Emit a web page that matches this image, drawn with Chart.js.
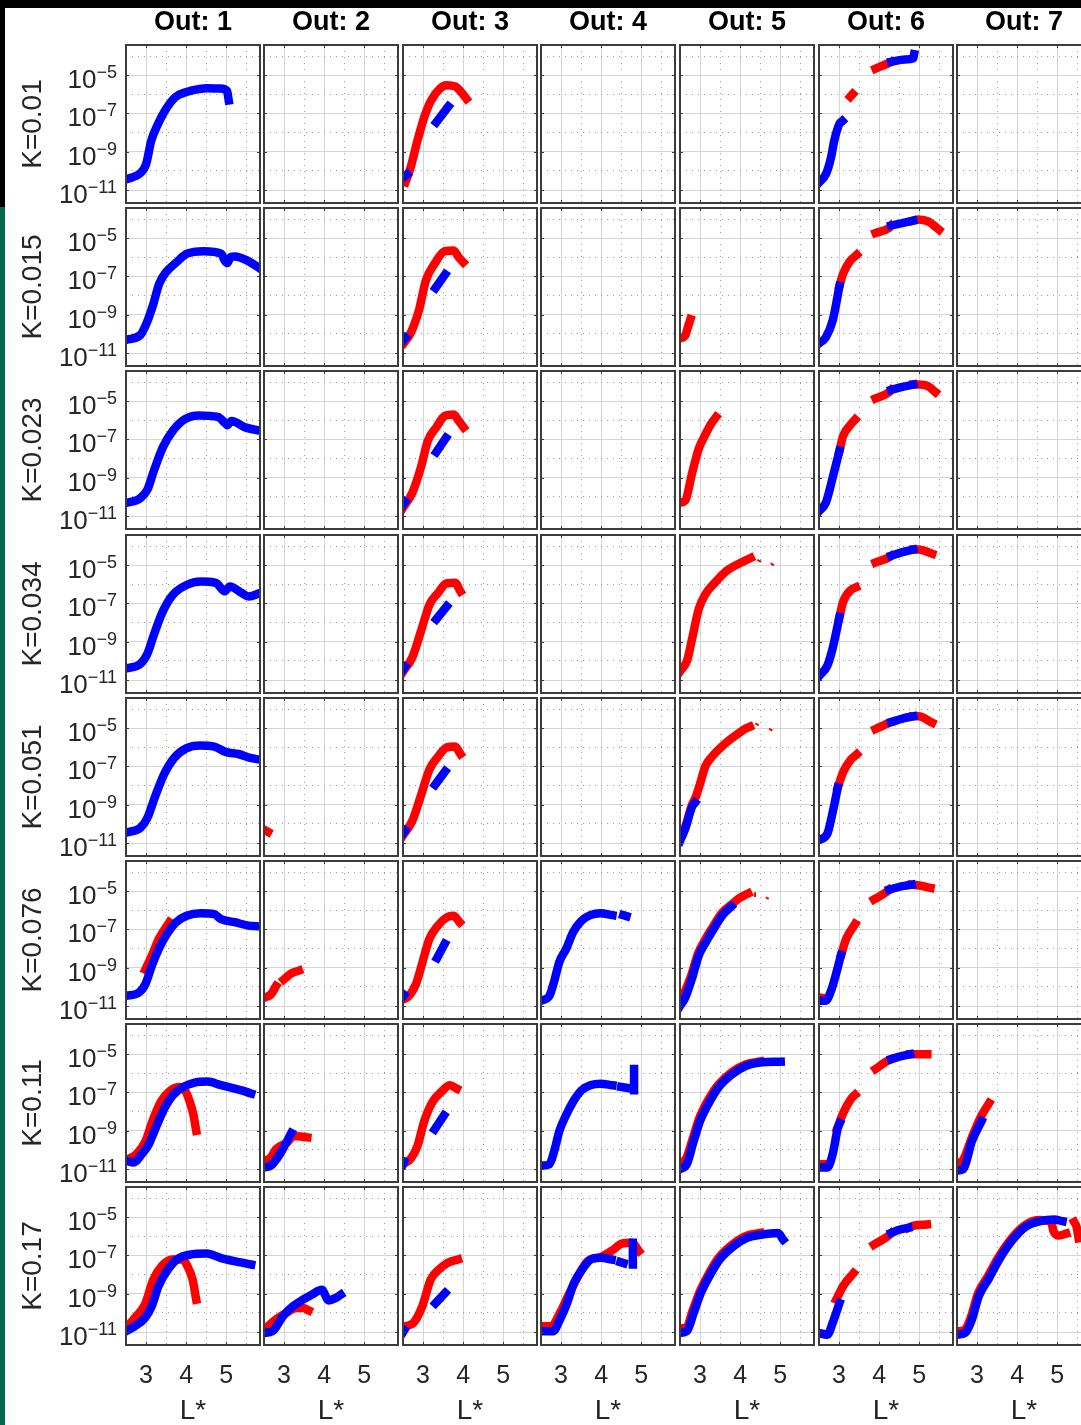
<!DOCTYPE html>
<html lang="en">
<head>
<meta charset="UTF-8">
<title>Out vs L* for each K</title>
<script src="https://cdn.jsdelivr.net/npm/chart.js"></script>
<style>
  html, body { margin: 0; padding: 0; background: #fff; }
  #frame { position: relative; width: 1081px; height: 1425px; overflow: hidden; background: #fff; }
  .edge { position: absolute; }
  .edge.top { left: 0; top: 0; width: 1081px; height: 8px; background: #000; }
  .edge.left { left: 0; top: 0; width: 5px; height: 207px; background: #000; }
  .edge.green { left: 0; top: 207px; width: 5px; height: 1218px; background: #04684a; }
  #frame canvas { position: absolute; }
</style>
</head>
<body>
<div id="frame">
  <div class="edge top"></div>
  <div class="edge left"></div>
  <div class="edge green"></div>
</div>
<script>
const FONT = "'Liberation Sans', Arial, Helvetica, sans-serif";
Chart.defaults.font.family = FONT;
Chart.defaults.color = '#262626';

// axes
const kLabels = ['K=0.01', 'K=0.015', 'K=0.023', 'K=0.034', 'K=0.051', 'K=0.076', 'K=0.11', 'K=0.17'];
const outLabels = ['Out: 1', 'Out: 2', 'Out: 3', 'Out: 4', 'Out: 5', 'Out: 6', 'Out: 7'];
const lTicks = [3, 4, 5];
const lMinor = [3.5, 4.5, 5.5];
const yTicks = [1e-5, 1e-7, 1e-9, 1e-11];
const yMinor = [1e-4, 1e-6, 1e-8, 1e-10];
const lRange = [2.5, 5.84];
const yRange = [2.1e-12, 3.8e-4];

// subplot grid
const colLefts = [126, 264, 403, 541, 680, 819, 957];
const rowTops = [45, 208, 371, 535, 698, 861, 1024, 1187];
const PLOT_W = 134, PLOT_H = 158;

// each series is a list of pieces, each piece a list of [L*, value]
// K = 0.01
const k0010_out1_blue = [[[2.5,3.6e-11],[2.87,8.1e-11],[3.0,2.2e-10],[3.13,3.8e-9],[3.3,2.9e-8],[3.47,1.4e-7],[3.73,7.2e-7],[3.99,1.3e-6],[4.33,1.9e-6],[4.5,2.1e-6],[4.85,2.0e-6],[5.02,1.5e-6],[5.06,4.8e-7]]];
const k0010_out3_red = [[[2.56,2.5e-11],[2.69,1.5e-10],[2.86,3.8e-9],[3.03,6.5e-8],[3.2,4.8e-7],[3.42,2.0e-6],[3.59,3.0e-6],[3.8,2.6e-6],[3.98,1.1e-6],[4.08,5.9e-7]]];
const k0010_out3_blue = [[[2.5,4.5e-11],[2.6,6.6e-11]], [[3.33,3.5e-8],[3.63,2.3e-7]]];
const k0010_out6_red = [[[3.28,7.6e-7],[3.34,1.05e-6]], [[3.91,2.2e-5],[4.21,4.1e-5],[4.3,5.0e-5]]];
const k0010_out6_blue = [[[2.5,2.5e-11],[2.67,6.6e-11],[2.8,5.0e-10],[2.88,3.8e-9],[3.01,2.9e-8],[3.08,4.0e-8]], [[4.3,5.0e-5],[4.64,6.6e-5],[4.85,7.6e-5],[4.87,1.26e-4]]];

// K = 0.015
const k0015_out1_blue = [[[2.5,4.9e-11],[2.86,8.9e-11],[2.98,2.5e-10],[3.16,2.6e-9],[3.33,4.3e-8],[3.5,1.7e-7],[3.76,5.6e-7],[4.02,1.55e-6],[4.44,2.1e-6],[4.87,1.55e-6],[4.97,6.3e-7],[5.03,5.0e-7],[5.1,1.0e-6],[5.21,1.1e-6],[5.56,6.2e-7],[5.84,2.6e-7]]];
const k0015_out3_red = [[[2.52,3.3e-11],[2.69,1.1e-10],[2.9,1.8e-9],[3.07,6.3e-8],[3.29,4.7e-7],[3.54,2.1e-6],[3.76,2.3e-6],[3.89,1.0e-6],[4.0,5.6e-7]]];
const k0015_out3_blue = [[[2.5,4.5e-11],[2.56,6.3e-11]], [[3.31,2.5e-8],[3.55,1.3e-7]]];
const k0015_out5_red = [[[2.5,5.9e-11],[2.63,8.3e-11],[2.71,2.8e-10],[2.76,5.9e-10]]];
const k0015_out6_red = [[[3.01,3.2e-8],[3.1,1.4e-7],[3.27,6.3e-7],[3.44,1.35e-6]], [[3.91,1.9e-5],[4.25,3.5e-5],[4.3,4.6e-5]], [[4.85,8.3e-5],[4.98,9.5e-5],[5.23,7.4e-5],[5.49,2.8e-5]]];
const k0015_out6_blue = [[[2.5,3.2e-11],[2.67,6.6e-11],[2.84,4.9e-10],[3.01,3.2e-8]], [[4.3,4.6e-5],[4.6,6.3e-5],[4.85,8.3e-5]]];

// K = 0.023
const k0023_out1_blue = [[[2.5,4.8e-11],[2.86,8.7e-11],[3.03,2.3e-10],[3.2,2.5e-9],[3.42,4.0e-8],[3.67,2.9e-7],[3.97,1.15e-6],[4.32,1.8e-6],[4.79,1.5e-6],[4.97,7.1e-7],[5.02,5.6e-7],[5.13,9.3e-7],[5.47,4.3e-7],[5.84,2.9e-7]]];
const k0023_out3_red = [[[2.5,2.7e-11],[2.73,1.6e-10],[2.95,3.7e-9],[3.12,8.7e-8],[3.33,4.3e-7],[3.54,1.7e-6],[3.76,2.0e-6],[3.89,9.3e-7],[4.01,4.3e-7]]];
const k0023_out3_blue = [[[2.5,4.0e-11],[2.55,5.6e-11]], [[3.33,2.2e-8],[3.57,1.2e-7]]];
const k0023_out5_red = [[[2.5,5.0e-11],[2.63,6.3e-11],[2.8,1.7e-9],[2.97,3.4e-8],[3.14,1.95e-7],[3.28,6.9e-7],[3.4,1.5e-6]]];
const k0023_out6_red = [[[3.01,2.6e-8],[3.1,1.5e-7],[3.27,5.4e-7],[3.4,1.1e-6]], [[3.91,1.4e-5],[4.25,3.0e-5],[4.3,3.9e-5]], [[4.85,7.4e-5],[4.98,7.4e-5],[5.23,5.9e-5],[5.4,3.0e-5]]];
const k0023_out6_blue = [[[2.5,1.8e-11],[2.67,5.0e-11],[2.84,1.0e-9],[3.01,2.6e-8]], [[4.3,3.9e-5],[4.58,5.6e-5],[4.85,7.4e-5]]];

// K = 0.034
const k0034_out1_blue = [[[2.5,4.0e-11],[2.86,7.1e-11],[3.03,2.3e-10],[3.2,2.5e-9],[3.42,4.0e-8],[3.67,2.9e-7],[4.01,9.3e-7],[4.36,1.4e-6],[4.74,1.2e-6],[4.96,4.3e-7],[5.09,7.8e-7],[5.39,3.5e-7],[5.56,2.3e-7],[5.84,3.5e-7]]];
const k0034_out3_red = [[[2.5,2.7e-11],[2.73,1.5e-10],[2.95,3.7e-9],[3.16,8.7e-8],[3.37,3.5e-7],[3.59,1.15e-6],[3.8,1.2e-6],[3.93,4.3e-7]]];
const k0034_out3_blue = [[[2.5,3.5e-11],[2.55,5.0e-11]], [[3.33,1.5e-8],[3.59,7.1e-8]]];
const k0034_out5_red = [[[2.5,2.8e-11],[2.68,1.1e-10],[2.8,1.4e-9],[2.97,5.4e-8],[3.14,3.2e-7],[3.4,1.45e-6],[3.66,5.1e-6],[4.0,1.3e-5],[4.26,2.4e-5]]];
const k0034_out5_specks = [[[4.45,1.8e-5],[4.5,1.6e-5]], [[4.78,1.2e-5],[4.82,1.05e-5]]];
const k0034_out6_red = [[[3.01,2.0e-8],[3.1,1.2e-7],[3.31,5.4e-7],[3.42,6.9e-7]], [[3.91,1.4e-5],[4.25,2.6e-5],[4.3,3.1e-5]], [[4.85,6.6e-5],[4.98,6.6e-5],[5.32,4.0e-5]]];
const k0034_out6_blue = [[[2.5,1.6e-11],[2.71,5.8e-11],[2.84,4.5e-10],[3.01,2.0e-8]], [[4.3,3.1e-5],[4.58,4.8e-5],[4.85,6.6e-5]]];

// K = 0.051
const k0051_out1_blue = [[[2.5,3.5e-11],[2.86,6.3e-11],[3.03,2.0e-10],[3.22,2.5e-9],[3.45,4.0e-8],[3.7,2.8e-7],[4.0,8.9e-7],[4.35,1.26e-6],[4.7,1.1e-6],[5.0,5.6e-7],[5.3,4.5e-7],[5.6,2.8e-7],[5.84,2.3e-7]]];
const k0051_out2_red = [[[2.5,5.0e-11],[2.6,3.8e-11]]];
const k0051_out3_red = [[[2.5,2.5e-11],[2.73,1.4e-10],[2.95,3.2e-9],[3.16,7.1e-8],[3.37,3.2e-7],[3.59,1.0e-6],[3.8,1.1e-6],[3.93,4.5e-7]]];
const k0051_out3_blue = [[[2.5,3.2e-11],[2.55,4.5e-11]], [[3.3,1.1e-8],[3.55,5.6e-8]]];
const k0051_out5_red = [[[2.5,1.8e-11],[2.63,7.1e-11],[2.8,1.0e-9],[2.9,2.8e-9],[3.0,1.26e-8],[3.13,1.0e-7],[3.3,3.3e-7],[3.56,1.2e-6],[3.81,3.2e-6],[4.15,1.0e-5],[4.24,1.2e-5]]];
const k0051_out5_blue = [[[2.5,1.26e-11],[2.63,5.6e-11],[2.8,7.8e-10],[2.87,1.26e-9]]];
const k0051_out5_specks = [[[4.4,1.7e-5],[4.44,1.5e-5]], [[4.74,8.9e-6],[4.78,7.9e-6]]];
const k0051_out6_red = [[[2.97,8.3e-9],[3.1,5.0e-8],[3.27,2.0e-7],[3.44,4.3e-7]], [[3.91,9.1e-6],[4.25,1.95e-5],[4.3,2.1e-5]], [[4.85,4.2e-5],[4.98,4.2e-5],[5.32,1.95e-5]]];
const k0051_out6_blue = [[[2.5,1.45e-11],[2.71,3.1e-11],[2.84,4.0e-10],[2.97,8.3e-9]], [[4.3,2.1e-5],[4.58,3.2e-5],[4.85,4.2e-5]]];

// K = 0.076
const k0076_out1_red = [[[2.98,7.9e-10],[3.15,4.7e-9],[3.32,3.3e-8],[3.58,2.4e-7]]];
const k0076_out1_blue = [[[2.5,3.4e-11],[2.82,5.0e-11],[2.98,1.35e-10],[3.15,1.4e-9],[3.32,1.0e-8],[3.5,5.0e-8],[3.75,2.4e-7],[4.01,5.2e-7],[4.36,7.1e-7],[4.7,6.3e-7],[4.87,3.5e-7],[5.21,2.4e-7],[5.55,1.6e-7],[5.72,1.5e-7]]];
const k0076_out2_red = [[[2.52,2.8e-11],[2.67,4.0e-11],[2.8,1.1e-10]], [[2.99,2.4e-10],[3.16,4.8e-10],[3.37,7.1e-10]]];
const k0076_out3_red = [[[2.5,2.2e-11],[2.65,3.4e-11],[2.82,1.35e-10],[2.99,2.1e-9],[3.16,3.3e-8],[3.37,1.6e-7],[3.59,4.3e-7],[3.76,5.2e-7],[3.91,2.4e-7]]];
const k0076_out3_blue = [[[2.5,3.2e-11],[2.53,3.8e-11]], [[3.35,3.2e-9],[3.54,1.8e-8]]];
const k0076_out4_blue = [[[2.5,1.9e-11],[2.71,3.4e-11],[2.83,2.0e-10],[2.96,2.1e-9],[3.13,1.0e-8],[3.3,7.2e-8],[3.51,2.9e-7],[3.73,5.6e-7],[3.98,7.1e-7],[4.28,5.6e-7]], [[4.55,5.6e-7],[4.63,5.0e-7]]];
const k0076_out5_red = [[[2.5,1.6e-11],[2.6,4.5e-11],[2.78,4.0e-10],[2.95,5.6e-9],[3.12,2.8e-8],[3.29,1.1e-7],[3.55,7.6e-7],[3.78,2.0e-6],[3.99,4.6e-6],[4.2,7.6e-6]]];
const k0076_out5_blue = [[[2.5,1.0e-11],[2.63,2.7e-11],[2.8,2.8e-10],[2.97,4.5e-9],[3.14,2.1e-8],[3.31,8.5e-8],[3.57,6.0e-7],[3.78,1.6e-6]]];
const k0076_out5_specks = [[[4.37,7.9e-6],[4.37,5.6e-6]], [[4.66,4.5e-6],[4.69,4.2e-6]]];
const k0076_out6_red = [[[2.5,2.8e-11],[2.6,2.6e-11]], [[3.05,4.7e-9],[3.18,3.3e-8],[3.4,1.95e-7]], [[3.87,3.7e-6],[4.21,1.0e-5],[4.25,1.2e-5]], [[4.81,2.2e-5],[5.0,2.0e-5],[5.28,1.5e-5]]];
const k0076_out6_blue = [[[2.5,1.9e-11],[2.67,1.9e-11],[2.8,6.3e-11],[2.92,4.4e-10],[3.05,4.7e-9]], [[4.25,1.2e-5],[4.55,1.8e-5],[4.81,2.2e-5]]];

// K = 0.11
const k011_out1_red = [[[2.5,2.9e-11],[2.77,6.3e-11],[2.99,3.0e-10],[3.16,3.2e-9],[3.37,3.3e-8],[3.59,1.2e-7],[3.84,1.95e-7],[3.97,1.3e-7],[4.1,2.8e-8],[4.18,6.9e-9],[4.25,1.0e-9]]];
const k011_out1_blue = [[[2.5,2.7e-11],[2.69,2.2e-11],[2.9,6.3e-11],[3.07,2.0e-10],[3.24,1.4e-9],[3.46,1.5e-8],[3.67,7.2e-8],[3.93,1.95e-7],[4.19,3.2e-7],[4.53,3.7e-7],[4.87,2.4e-7],[5.21,1.6e-7],[5.38,1.3e-7],[5.62,8.9e-8]]];
const k011_out2_red = [[[2.5,2.7e-11],[2.67,4.0e-11],[2.8,1.1e-10],[3.08,2.5e-10],[3.25,5.4e-10],[3.58,4.5e-10]]];
const k011_out2_blue = [[[2.5,1.2e-11],[2.67,1.5e-11],[2.84,4.0e-11],[3.01,1.6e-10],[3.18,7.6e-10]]];
const k011_out3_red = [[[2.5,1.8e-11],[2.69,3.4e-11],[2.86,1.6e-10],[3.03,3.2e-9],[3.24,3.3e-8],[3.46,1.1e-7],[3.67,2.4e-7],[3.84,1.6e-7]]];
const k011_out3_blue = [[[2.5,1.8e-11],[2.53,2.5e-11]], [[3.29,1.2e-9],[3.52,6.3e-9]]];
const k011_out4_blue = [[[2.5,1.5e-11],[2.71,1.8e-11],[2.83,8.7e-11],[2.96,1.0e-9],[3.13,6.9e-9],[3.3,3.3e-8],[3.51,1.3e-7],[3.73,2.4e-7],[3.98,2.9e-7],[4.28,2.4e-7]], [[4.5,1.95e-7],[4.76,1.6e-7]], [[4.82,1.7e-6],[4.82,1.3e-7]]];
const k011_out5_red = [[[2.5,2.0e-11],[2.65,3.5e-11],[2.82,4.0e-10],[2.98,4.5e-9],[3.2,4.0e-8],[3.45,2.5e-7],[3.8,1.2e-6],[4.15,3.0e-6],[4.5,4.2e-6]]];
const k011_out5_blue = [[[2.5,1.0e-11],[2.67,1.8e-11],[2.84,2.8e-10],[3.0,3.2e-9],[3.22,2.8e-8],[3.47,1.95e-7],[3.81,9.3e-7],[4.15,2.5e-6],[4.5,3.7e-6],[5.01,4.1e-6]]];
const k011_out6_red = [[[2.5,1.8e-11],[2.65,1.8e-11]], [[2.95,1.26e-9],[3.1,8.3e-9],[3.31,5.0e-8],[3.4,7.6e-8]], [[3.91,1.7e-6],[4.21,4.6e-6],[4.3,5.5e-6]], [[4.77,1.0e-5],[5.2,1.0e-5]]];
const k011_out6_blue = [[[2.5,1.2e-11],[2.71,1.2e-11],[2.84,5.9e-11],[2.97,1.4e-9],[3.02,2.5e-9]], [[4.3,5.5e-6],[4.55,7.9e-6],[4.77,1.0e-5]]];
const k011_out7_red = [[[2.5,1.8e-11],[2.66,3.2e-11],[2.87,4.4e-10],[3.08,4.7e-9],[3.3,2.8e-8]]];
const k011_out7_blue = [[[2.5,8.3e-12],[2.66,1.0e-11],[2.87,2.8e-10],[3.11,3.2e-9]]];

// K = 0.17
const k017_out1_red = [[[2.5,1.6e-11],[2.75,6.5e-11],[2.97,2.7e-10],[3.18,5.5e-9],[3.39,2.8e-8],[3.65,6.2e-8],[3.91,6.2e-8],[4.03,2.8e-8],[4.16,5.5e-9],[4.25,4.9e-10]]];
const k017_out1_blue = [[[2.5,1.1e-11],[2.71,1.95e-11],[2.97,5.4e-11],[3.14,2.2e-10],[3.31,2.5e-9],[3.57,2.2e-8],[3.83,7.6e-8],[4.08,1.1e-7],[4.51,1.26e-7],[4.85,7.6e-8],[5.2,5.1e-8],[5.62,3.4e-8]]];
const k017_out2_red = [[[2.5,1.3e-11],[2.79,4.4e-11],[3.05,1.0e-10],[3.31,1.8e-10],[3.48,1.8e-10],[3.61,1.35e-10]]];
const k017_out2_blue = [[[2.5,8.9e-12],[2.71,1.1e-11],[2.97,6.6e-11],[3.22,2.2e-10],[3.47,4.9e-10],[3.69,8.9e-10],[3.94,1.6e-9],[4.11,4.5e-10],[4.28,5.9e-10],[4.41,8.9e-10]]];
const k017_out3_red = [[[2.55,2.0e-11],[2.76,3.0e-11],[2.98,2.2e-10],[3.19,5.5e-9],[3.4,1.9e-8],[3.62,4.2e-8],[3.87,6.2e-8]]];
const k017_out3_blue = [[[2.5,1.0e-11],[2.53,1.26e-11]], [[3.31,3.2e-10],[3.55,1.1e-9]]];
const k017_out4_red = [[[2.5,2.0e-11],[2.76,2.0e-11],[2.97,9.8e-11],[3.19,8.9e-10],[3.4,6.6e-9],[3.66,5.0e-8],[4.0,8.5e-8],[4.3,2.0e-7],[4.51,4.2e-7],[4.77,4.6e-7],[4.94,1.7e-7]]];
const k017_out4_blue = [[[2.5,1.1e-11],[2.8,1.1e-11],[2.97,4.4e-11],[3.15,3.2e-10],[3.32,3.6e-9],[3.53,1.9e-8],[3.74,6.2e-8],[4.0,7.6e-8],[4.26,6.2e-8]], [[4.48,4.5e-8],[4.56,4.0e-8]], [[4.79,4.6e-7],[4.79,3.4e-8]]];
const k017_out5_red = [[[2.5,1.6e-11],[2.65,1.6e-11],[2.82,1.4e-10],[3.0,1.4e-9],[3.21,1.05e-8],[3.47,7.9e-8],[3.81,3.8e-7],[4.15,1.05e-6],[4.5,1.5e-6]]];
const k017_out5_blue = [[[2.5,8.9e-12],[2.67,1.1e-11],[2.84,9.8e-11],[3.02,1.1e-9],[3.23,8.1e-9],[3.49,6.2e-8],[3.83,3.0e-7],[4.17,8.3e-7],[4.51,1.2e-6],[4.94,1.5e-6],[5.07,6.8e-7]]];
const k017_out6_red = [[[2.5,7.9e-12],[2.6,7.9e-12]], [[2.93,5.0e-10],[3.1,2.5e-9],[3.36,1.2e-8]], [[3.87,3.7e-7],[4.21,1.0e-6],[4.3,1.5e-6]], [[4.73,2.8e-6],[4.81,3.4e-6],[5.19,4.2e-6]]];
const k017_out6_blue = [[[2.5,8.9e-12],[2.71,7.2e-12],[2.84,3.0e-11],[3.01,3.2e-10]], [[4.3,1.5e-6],[4.5,2.2e-6],[4.73,2.8e-6]]];
const k017_out7_red = [[[2.5,1.1e-11],[2.68,1.26e-11],[2.85,6.3e-11],[3.02,1.0e-9],[3.28,8.9e-9],[3.53,7.9e-8],[3.87,8.3e-7],[4.21,4.0e-6],[4.55,7.1e-6],[4.85,5.6e-6],[4.9,2.0e-6],[5.05,1.1e-6],[5.22,1.4e-6]], [[5.42,5.6e-6],[5.48,3.2e-6],[5.53,7.9e-7]]];
const k017_out7_blue = [[[2.5,7.2e-12],[2.7,8.9e-12],[2.87,4.4e-11],[3.04,7.2e-10],[3.3,6.6e-9],[3.55,6.2e-8],[3.89,6.8e-7],[4.23,3.4e-6],[4.57,6.2e-6],[4.92,7.6e-6],[5.13,6.2e-6]]];

// [row, column, red, blue, thin red specks]
const panels = [
  [0, 0, [], k0010_out1_blue],
  [0, 2, k0010_out3_red, k0010_out3_blue],
  [0, 5, k0010_out6_red, k0010_out6_blue],
  [1, 0, [], k0015_out1_blue],
  [1, 2, k0015_out3_red, k0015_out3_blue],
  [1, 4, k0015_out5_red, []],
  [1, 5, k0015_out6_red, k0015_out6_blue],
  [2, 0, [], k0023_out1_blue],
  [2, 2, k0023_out3_red, k0023_out3_blue],
  [2, 4, k0023_out5_red, []],
  [2, 5, k0023_out6_red, k0023_out6_blue],
  [3, 0, [], k0034_out1_blue],
  [3, 2, k0034_out3_red, k0034_out3_blue],
  [3, 4, k0034_out5_red, [], k0034_out5_specks],
  [3, 5, k0034_out6_red, k0034_out6_blue],
  [4, 0, [], k0051_out1_blue],
  [4, 1, k0051_out2_red, []],
  [4, 2, k0051_out3_red, k0051_out3_blue],
  [4, 4, k0051_out5_red, k0051_out5_blue, k0051_out5_specks],
  [4, 5, k0051_out6_red, k0051_out6_blue],
  [5, 0, k0076_out1_red, k0076_out1_blue],
  [5, 1, k0076_out2_red, []],
  [5, 2, k0076_out3_red, k0076_out3_blue],
  [5, 3, [], k0076_out4_blue],
  [5, 4, k0076_out5_red, k0076_out5_blue, k0076_out5_specks],
  [5, 5, k0076_out6_red, k0076_out6_blue],
  [6, 0, k011_out1_red, k011_out1_blue],
  [6, 1, k011_out2_red, k011_out2_blue],
  [6, 2, k011_out3_red, k011_out3_blue],
  [6, 3, [], k011_out4_blue],
  [6, 4, k011_out5_red, k011_out5_blue],
  [6, 5, k011_out6_red, k011_out6_blue],
  [6, 6, k011_out7_red, k011_out7_blue],
  [7, 0, k017_out1_red, k017_out1_blue],
  [7, 1, k017_out2_red, k017_out2_blue],
  [7, 2, k017_out3_red, k017_out3_blue],
  [7, 3, k017_out4_red, k017_out4_blue],
  [7, 4, k017_out5_red, k017_out5_blue],
  [7, 5, k017_out6_red, k017_out6_blue],
  [7, 6, k017_out7_red, k017_out7_blue]
];

// dark box round each axes, with short inward ticks
const frameBox = {
  id: 'frameBox',
  afterDraw(chart) {
    const { ctx, chartArea: a, scales } = chart;
    ctx.save();
    ctx.strokeStyle = '#3c3c3c';
    ctx.lineWidth = 2;
    ctx.strokeRect(a.left, a.top, a.right - a.left, a.bottom - a.top);
    ctx.lineWidth = 1;
    ctx.beginPath();
    lTicks.forEach(v => {
      const x = Math.round(scales.x.getPixelForValue(v)) + 0.5;
      ctx.moveTo(x, a.bottom); ctx.lineTo(x, a.bottom - 3);
      ctx.moveTo(x, a.top); ctx.lineTo(x, a.top + 3);
    });
    yTicks.forEach(v => {
      const y = Math.round(scales.y.getPixelForValue(v)) + 0.5;
      ctx.moveTo(a.left, y); ctx.lineTo(a.left + 3, y);
      ctx.moveTo(a.right, y); ctx.lineTo(a.right - 3, y);
    });
    ctx.stroke();
    ctx.restore();
  }
};

// 10^n tick labels with a raised exponent
const powerLabels = {
  id: 'powerLabels',
  afterDraw(chart) {
    const { ctx, chartArea: a, scales: { y } } = chart;
    ctx.save();
    ctx.fillStyle = '#262626';
    ctx.textAlign = 'right';
    ctx.textBaseline = 'alphabetic';
    const right = a.left - 9;
    yTicks.forEach(v => {
      const py = y.getPixelForValue(v);
      const exp = '\u2212' + Math.round(-Math.log10(v));
      ctx.font = '18px ' + FONT;
      ctx.fillText(exp, right, py + 3);
      const w = ctx.measureText(exp).width;
      ctx.font = '26px ' + FONT;
      ctx.fillText('10', right - w, py + 13);
    });
    ctx.restore();
  }
};

const frame = document.getElementById('frame');
const setTicks = list => s => { s.ticks = list.map(value => ({ value })); };

function addPanel(r, c, red, blue, specks) {
  const isLeft = c === 0;
  const isTop = r === 0;
  const isBottom = r === kLabels.length - 1;
  const padL = isLeft ? 126 : 2, padR = 2;
  const padT = isTop ? 45 : 2, padB = isBottom ? 80 : 2;

  const canvas = document.createElement('canvas');
  canvas.width = PLOT_W + padL + padR;
  canvas.height = PLOT_H + padT + padB;
  canvas.style.left = (colLefts[c] - padL) + 'px';
  canvas.style.top = (rowTops[r] - padT) + 'px';
  frame.appendChild(canvas);

  const datasets = [];
  const addPieces = (pieces, color, width, order) => pieces.forEach(piece => datasets.push({
    data: piece.map(([x, y]) => ({ x, y })),
    borderColor: color,
    backgroundColor: color,
    borderWidth: width,
    borderCapStyle: 'square',
    borderJoinStyle: 'round',
    showLine: true,
    pointRadius: 0,
    cubicInterpolationMode: piece.length > 2 ? 'monotone' : 'default',
    tension: 0,
    order
  }));
  addPieces(blue, '#0000ff', 8.5, 1);
  addPieces(red, '#ff0000', 8.5, 2);
  addPieces(specks, '#ff0000', 2, 3);

  new Chart(canvas, {
    type: 'scatter',
    data: { datasets },
    options: {
      responsive: false,
      animation: false,
      events: [],
      devicePixelRatio: 1,
      layout: { padding: { left: isLeft ? 0 : 2, right: 2, top: isTop ? 0 : 2, bottom: isBottom ? 0 : 2 } },
      plugins: {
        legend: { display: false },
        tooltip: { enabled: false },
        title: {
          display: isTop,
          text: outLabels[c],
          fullSize: false,
          color: '#000',
          font: { size: 27, weight: 'bold', lineHeight: 1 },
          padding: { top: 9, bottom: 9 }
        }
      },
      scales: {
        x: {
          type: 'linear', position: 'bottom', bounds: 'data',
          min: lRange[0], max: lRange[1],
          afterBuildTicks: setTicks(lTicks),
          afterFit: s => { s.height = isBottom ? 80 : 0; },
          grid: { color: '#d4d4d4', lineWidth: 1, drawTicks: false },
          border: { display: false },
          ticks: { display: isBottom, autoSkip: false, maxRotation: 0, padding: 0, color: '#262626', font: { size: 25, lineHeight: 2.5 } },
          title: { display: isBottom, text: 'L*', color: '#262626', font: { size: 28, lineHeight: 1 }, padding: { top: 0, bottom: 0 } }
        },
        x2: {
          type: 'linear', position: 'bottom', bounds: 'data',
          min: lRange[0], max: lRange[1],
          afterBuildTicks: setTicks(lMinor),
          afterFit: s => { s.height = 0; },
          grid: { color: '#9c9c9c', lineWidth: 1, drawTicks: false },
          border: { display: false, dash: [1, 5] },
          ticks: { display: false }
        },
        y: {
          type: 'logarithmic', position: 'left', bounds: 'data',
          min: yRange[0], max: yRange[1],
          afterBuildTicks: setTicks(yTicks),
          afterFit: s => { s.width = isLeft ? 126 : 0; },
          grid: { color: '#d4d4d4', lineWidth: 1, drawTicks: false },
          border: { display: false },
          ticks: { display: false },
          title: { display: isLeft, text: kLabels[r], color: '#262626', font: { size: 28, lineHeight: 1 }, padding: { top: 19, bottom: 0 } }
        },
        y2: {
          type: 'logarithmic', position: 'left', bounds: 'data',
          min: yRange[0], max: yRange[1],
          afterBuildTicks: setTicks(yMinor),
          afterFit: s => { s.width = 0; },
          grid: { color: '#9c9c9c', lineWidth: 1, drawTicks: false },
          border: { display: false, dash: [1, 5] },
          ticks: { display: false }
        }
      }
    },
    plugins: isLeft ? [frameBox, powerLabels] : [frameBox]
  });
}

for (let r = 0; r < kLabels.length; r++) {
  for (let c = 0; c < outLabels.length; c++) {
    const p = panels.find(q => q[0] === r && q[1] === c) || [r, c, [], []];
    addPanel(r, c, p[2], p[3], p[4] || []);
  }
}
</script>
</body>
</html>
